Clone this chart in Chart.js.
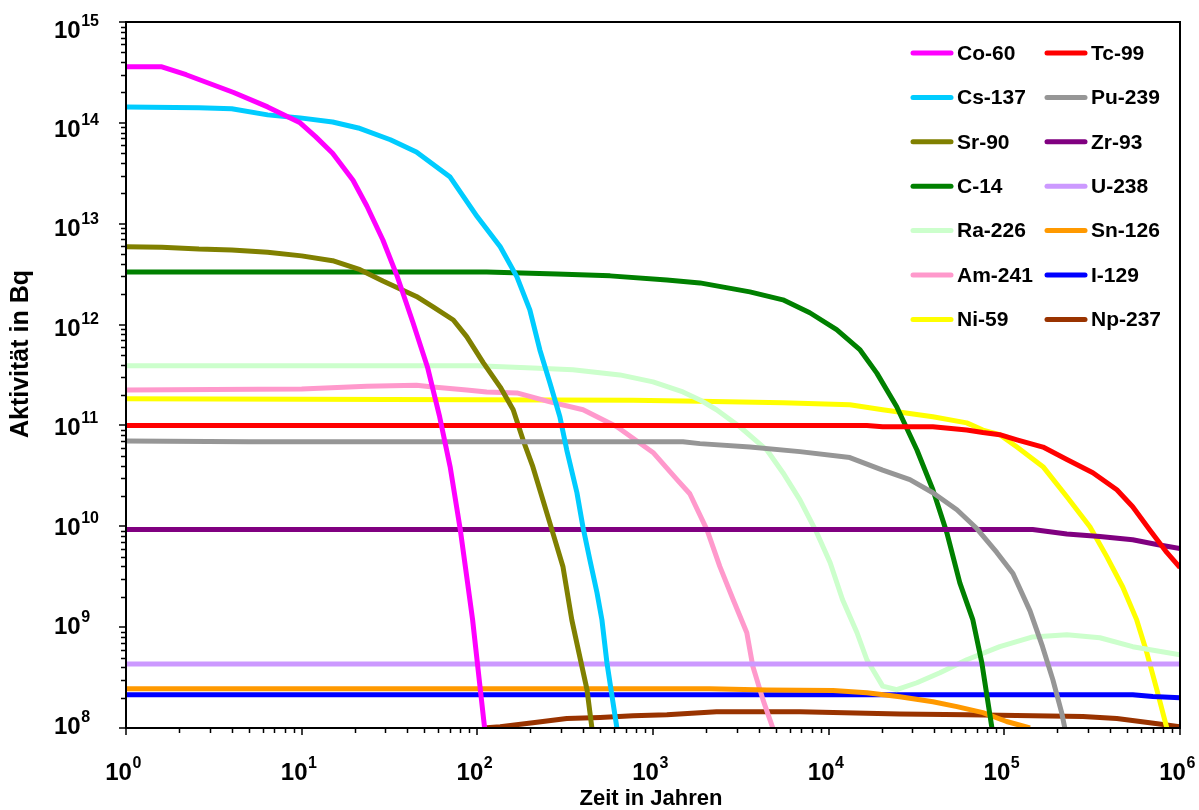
<!DOCTYPE html>
<html>
<head>
<meta charset="utf-8">
<script src="https://cdn.jsdelivr.net/npm/chart.js@4.4.1/dist/chart.umd.min.js"></script>
<style>
  body { margin: 0; background: #fff; }
  #wrap { width: 1199px; height: 810px; }
</style>
</head>
<body>
<div id="wrap"><canvas id="chart"></canvas></div>
<script>
// [Zeit in Jahren, Aktivität in Bq]
const co60 = [[1,3.6e14],[1.6,3.6e14],[2.2,3.0e14],[4.1,2.0e14],[6.4,1.44e14],[9.8,1.0e14],[12,7.3e13],[15,5.0e13],[19.6,2.7e13],[23.5,1.5e13],[29,6.9e12],[35,3.0e12],[43,1.05e12],[52,3.8e11],[61,1.22e11],[70,3.9e10],[80,9.2e9],[88,2.75e9],[94,1.18e9],[103,2.8e8],[110,1e8]];
const cs137 = [[1,1.44e14],[2.6,1.41e14],[4,1.38e14],[6.4,1.2e14],[9.8,1.12e14],[15,1.02e14],[21,8.9e13],[32,6.8e13],[45,5.15e13],[70,2.9e13],[100,1.17e13],[135,5.9e12],[168,2.97e12],[199,1.4e12],[227,5.6e11],[259,2.64e11],[295,1.22e11],[323,5.7e10],[369,2.15e10],[399,9.9e9],[437,4.66e9],[480,2.19e9],[512,1.18e9],[547,4.4e8],[623,1e8]];
const sr90 = [[1,5.9e12],[1.6,5.85e12],[2.6,5.6e12],[4,5.5e12],[6.4,5.2e12],[10,4.8e12],[15,4.3e12],[21.5,3.5e12],[29,2.7e12],[45,1.9e12],[56,1.5e12],[73,1.11e12],[87,7.6e11],[108,4.2e11],[135,2.4e11],[160,1.43e11],[182,7.2e10],[207,3.9e10],[236,1.83e10],[269,8.6e9],[307,4e9],[345,1.18e9],[383,5.1e8],[421,2.4e8],[449,1e8]];
const c14 = [[1,3.33e12],[113,3.33e12],[284,3.18e12],[570,3.04e12],[1200,2.77e12],[1850,2.59e12],[3560,2.11e12],[5490,1.76e12],[7810,1.31e12],[11100,8.9e11],[15100,5.6e11],[18800,3.3e11],[24400,1.53e11],[31800,5.7e10],[39200,2.3e10],[47100,8.6e9],[55800,2.75e9],[66200,1.18e9],[74500,4.4e8],[85000,1e8]];
const ra226 = [[1,3.9e11],[100,3.9e11],[207,3.72e11],[350,3.56e11],[648,3.17e11],[1000,2.7e11],[1480,2.15e11],[1850,1.79e11],[2300,1.43e11],[3120,9.7e10],[4450,5.7e10],[5490,3.4e10],[6860,1.83e10],[8570,8.6e9],[10200,4.35e9],[12000,1.87e9],[14500,8.8e8],[16500,4.75e8],[20300,2.6e8],[24400,2.4e8],[31800,2.81e8],[43000,3.53e8],[61100,4.75e8],[94200,6.4e8],[145000,8.0e8],[227000,8.4e8],[350000,7.85e8],[538000,6.4e8],[1e6,5.33e8]];
const am241 = [[1,2.25e11],[10,2.3e11],[23.5,2.45e11],[45,2.5e11],[56,2.4e11],[87,2.25e11],[113,2.15e11],[168,2.1e11],[259,1.71e11],[400,1.43e11],[623,9.7e10],[1000,5.4e10],[1370,2.9e10],[1620,2.1e10],[2030,9.2e9],[2400,4e9],[2850,1.9e9],[3420,8.8e8],[3700,4.1e8],[4230,1.9e8],[4810,1e8]];
const ni59 = [[1,1.84e11],[100,1.8e11],[770,1.78e11],[1850,1.74e11],[5490,1.68e11],[13200,1.6e11],[20300,1.43e11],[39200,1.22e11],[61100,1.06e11],[75500,9.0e10],[94200,8.1e10],[118000,6.1e10],[166000,3.9e10],[227000,1.96e10],[307000,9.9e9],[383000,5.0e9],[472000,2.5e9],[567000,1.18e9],[647000,5.6e8],[738000,2.4e8],[841000,1e8]];
const tc99 = [[1,1.0e11],[16500,1.0e11],[20300,9.7e10],[39200,9.7e10],[61100,9.0e10],[75500,8.5e10],[94200,8.1e10],[118000,7.2e10],[166000,6.1e10],[227000,4.6e10],[319000,3.4e10],[437000,2.3e10],[538000,1.56e10],[673000,9.2e9],[841000,5.5e9],[1e6,3.9e9]];
const pu239 = [[1,7.0e10],[5,6.9e10],[1480,6.9e10],[1850,6.6e10],[3560,6.1e10],[6860,5.5e10],[13200,4.8e10],[20300,3.6e10],[29000,2.9e10],[39200,2.15e10],[53700,1.46e10],[69700,9.5e9],[90600,5.5e9],[112000,3.4e9],[140000,1.45e9],[165000,6.4e8],[189000,3.0e8],[212000,1.42e8],[221000,1e8]];
const zr93 = [[1,9.3e9],[145000,9.3e9],[227000,8.4e9],[350000,7.9e9],[538000,7.35e9],[738000,6.6e9],[1e6,6.0e9]];
const u238 = [[1,4.3e8],[1e6,4.3e8]];
const sn126 = [[1,2.45e8],[2100,2.45e8],[4450,2.38e8],[10600,2.35e8],[16500,2.24e8],[25400,2.04e8],[39200,1.82e8],[53700,1.63e8],[75500,1.42e8],[103000,1.16e8],[140000,1e8]];
const i129 = [[1,2.14e8],[538000,2.14e8],[700000,2.05e8],[1e6,2.0e8]];
const np237 = [[108,1.0e8],[135,1.03e8],[207,1.13e8],[323,1.24e8],[500,1.27e8],[770,1.32e8],[1200,1.35e8],[1850,1.42e8],[2300,1.45e8],[6860,1.45e8],[25400,1.38e8],[61100,1.35e8],[145000,1.32e8],[280000,1.3e8],[437000,1.24e8],[673000,1.13e8],[1e6,1.03e8]];

// legend order (row by row, two columns)
const labels = ['Co-60','Tc-99','Cs-137','Pu-239','Sr-90','Zr-93','C-14','U-238','Ra-226','Sn-126','Am-241','I-129','Ni-59','Np-237'];
const series = [co60, tc99, cs137, pu239, sr90, zr93, c14, u238, ra226, sn126, am241, i129, ni59, np237];
const colors = ['#ff00ff','#ff0000','#00ccff','#969696','#808000','#800080','#008000','#cc99ff','#ccffcc','#ff9900','#ff99cc','#0000ff','#ffff00','#993300'];

const xExps = [0,1,2,3,4,5,6];
const yExps = [8,9,10,11,12,13,14,15];

const FONT = '"Liberation Sans", Arial, sans-serif';

function powLabel(ctx, exp, x, baseline, align) {
  ctx.font = 'bold 24px ' + FONT;
  const w1 = ctx.measureText('10').width;
  ctx.font = 'bold 16px ' + FONT;
  const w2 = ctx.measureText(String(exp)).width;
  let left = x;
  if (align === 'center') left = x - (w1 + w2) / 2;
  ctx.textAlign = 'left';
  ctx.textBaseline = 'alphabetic';
  ctx.font = 'bold 24px ' + FONT;
  ctx.fillText('10', left, baseline);
  ctx.font = 'bold 16px ' + FONT;
  ctx.fillText(String(exp), left + w1 + 0.5, baseline - 12);
}

const decor = {
  id: 'decor',
  afterDraw(chart) {
    const ctx = chart.ctx, a = chart.chartArea;
    const xs = chart.scales.x, ys = chart.scales.y;
    ctx.save();
    ctx.fillStyle = '#000';
    ctx.strokeStyle = '#000';

    // frame
    ctx.lineWidth = 2;
    ctx.strokeRect(a.left, a.top, a.right - a.left, a.bottom - a.top);

    // tick marks, pointing outwards
    ctx.lineWidth = 1.5;
    ctx.beginPath();
    yExps.forEach((e, i) => {
      const py = Math.round(ys.getPixelForValue(Math.pow(10, e)));
      ctx.moveTo(a.left - 7, py); ctx.lineTo(a.left, py);
      if (i < yExps.length - 1) {
        for (let m = 2; m <= 9; m++) {
          const q = Math.round(ys.getPixelForValue(m * Math.pow(10, e))) + 0.5;
          ctx.moveTo(a.left - 5, q); ctx.lineTo(a.left, q);
        }
      }
    });
    xExps.forEach((e, i) => {
      const px = Math.round(xs.getPixelForValue(Math.pow(10, e)));
      ctx.moveTo(px, a.bottom); ctx.lineTo(px, a.bottom + 7);
      if (i < xExps.length - 1) {
        for (let m = 2; m <= 9; m++) {
          const q = Math.round(xs.getPixelForValue(m * Math.pow(10, e))) + 0.5;
          ctx.moveTo(q, a.bottom); ctx.lineTo(q, a.bottom + 5);
        }
      }
    });
    ctx.stroke();

    // tick labels 10^n
    yExps.forEach(e => {
      const py = ys.getPixelForValue(Math.pow(10, e));
      const off = 7 - 10 * (py - a.top) / (a.bottom - a.top);
      powLabel(ctx, e, 54, py + off + 8.5, 'left');
    });
    xExps.forEach(e => {
      const px = xs.getPixelForValue(Math.pow(10, e));
      powLabel(ctx, e, px - 3, a.bottom + 52, 'center');
    });

    // axis titles
    ctx.textAlign = 'center';
    ctx.textBaseline = 'middle';
    ctx.font = 'bold 22px ' + FONT;
    ctx.fillText('Zeit in Jahren', (a.left + a.right) / 2 - 2, a.bottom + 71);
    ctx.save();
    ctx.font = 'bold 25px ' + FONT;
    ctx.translate(21, 354);
    ctx.rotate(-Math.PI / 2);
    ctx.fillText('Aktivität in Bq', 0, 0);
    ctx.restore();

    // legend inside the plot, two columns
    ctx.font = 'bold 21px ' + FONT;
    ctx.textAlign = 'left';
    ctx.lineCap = 'round';
    ctx.lineWidth = 5;
    chart.data.datasets.forEach((ds, i) => {
      const col = i % 2, row = Math.floor(i / 2);
      const lx = a.right - 267 + col * 134;
      const ly = a.top + 31 + row * 44.4;
      ctx.strokeStyle = ds.borderColor;
      ctx.beginPath();
      ctx.moveTo(lx, ly); ctx.lineTo(lx + 38, ly);
      ctx.stroke();
      ctx.fillStyle = '#000';
      ctx.fillText(ds.label, lx + 44, ly + 1);
    });
    ctx.restore();
  }
};

new Chart(document.getElementById('chart'), {
  type: 'scatter',
  data: {
    datasets: series.map((pts, i) => ({
      label: labels[i],
      data: pts.map(([x, y]) => ({ x, y })),
      showLine: true,
      borderColor: colors[i],
      backgroundColor: colors[i],
      borderWidth: 5,
      borderJoinStyle: 'round',
      pointRadius: 0,
      tension: 0,
      clip: 0
    }))
  },
  options: {
    responsive: true,
    maintainAspectRatio: false,
    animation: false,
    layout: { padding: { left: 126, top: 22, right: 19, bottom: 82 } },
    plugins: { legend: { display: false }, tooltip: { enabled: false } },
    scales: {
      x: { type: 'logarithmic', min: 1, max: 1e6, display: false },
      y: { type: 'logarithmic', min: 1e8, max: 1e15, display: false }
    }
  },
  plugins: [decor]
});
</script>
</body>
</html>
